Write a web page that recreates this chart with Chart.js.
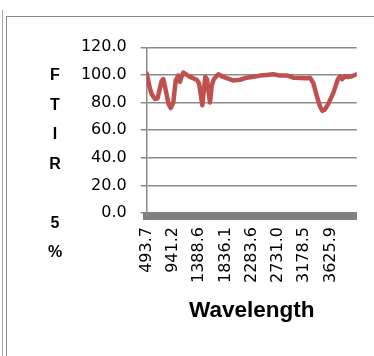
<!DOCTYPE html>
<html>
<head>
<meta charset="utf-8">
<script src="https://cdn.jsdelivr.net/npm/chart.js@4/dist/chart.umd.min.js"></script>
<style>
  html, body { margin: 0; padding: 0; background: #fff; }
  #wrap { position: relative; width: 374px; height: 356px; overflow: hidden; }
  #frameOuter { position: absolute; left: 2px; top: 10px; width: 1px; height: 346px; background: #a6a6a6; }
  #frameInner { position: absolute; left: 6px; top: 16px; right: -2px; bottom: -2px;
                border-left: 1px solid #8c8c8c; border-top: 1px solid #8c8c8c; }
  canvas { position: absolute; left: 0; top: 0; }
</style>
</head>
<body>
<div id="wrap">
  <div id="frameOuter"></div>
  <div id="frameInner"></div>
  <canvas id="c" width="374" height="356"></canvas>
</div>
<script>
// FTIR spectrum: wavelength (x) and transmittance % (y)
const wavelength = [493.7, 550, 579, 635, 678, 749, 777, 823, 865, 903,
  947, 988, 1032, 1061, 1090, 1118, 1176, 1232, 1346, 1385,
  1411, 1441, 1470, 1493, 1522, 1547, 1573, 1602, 1629, 1658,
  1714, 1777, 1857, 1965, 2084, 2198, 2311, 2425, 2539, 2652,
  2766, 2880, 2993, 3107, 3221, 3277, 3334, 3391, 3448, 3490,
  3533, 3589, 3675, 3754, 3789, 3823, 3874, 3925, 3993, 4073];
const transmittance = [101, 90, 86, 82.5, 83, 95.7, 97, 88, 79, 76,
  80, 96, 99.5, 95, 99, 101.7, 100, 98.6, 96.5, 94,
  87, 78, 90, 98.5, 97, 88, 80, 92, 96, 98,
  100.5, 99, 97.6, 96, 96.5, 98, 98.6, 99.5, 100, 100.5,
  99.5, 99.6, 98, 97.7, 97.5, 98, 94, 85, 77, 74,
  75, 79, 87, 97, 99, 97, 99, 98.5, 99, 100.5];
const xTickLabels = [493.7, 941.2, 1388.6, 1836.1, 2283.6, 2731.0, 3178.5, 3625.9];
const yTickLabels = [0, 20, 40, 60, 80, 100, 120];
const yTitleChars = ['F', 'T', 'I', 'R', ' ', '5', '%'];
const xTitle = 'Wavelength';

// Vertical, letter-by-letter axis title on the left
const stackedTitle = {
  id: 'stackedTitle',
  afterDraw(chart) {
    const ctx = chart.ctx;
    ctx.save();
    ctx.font = 'bold 16px "Liberation Sans", Arial, sans-serif';
    ctx.fillStyle = '#000';
    ctx.textAlign = 'center';
    ctx.textBaseline = 'middle';
    yTitleChars.forEach((ch, i) => ctx.fillText(ch, 55, 76 + i * 29.5));
    ctx.restore();
  }
};

new Chart(document.getElementById('c'), {
  type: 'line',
  data: {
    datasets: [{
      data: wavelength.map((w, i) => ({ x: w, y: transmittance[i] })),
      borderColor: '#C0504D',
      borderWidth: 4.5,
      pointRadius: 0,
      tension: 0,
      borderJoinStyle: 'round',
      borderCapStyle: 'round',
      fill: false
    }]
  },
  options: {
    responsive: false,
    animation: false,
    devicePixelRatio: 1,
    layout: { padding: { left: 80.7, right: 17.3, top: 47.3, bottom: 0 } },
    plugins: { legend: { display: false }, tooltip: { enabled: false } },
    scales: {
      x: {
        type: 'linear',
        min: 493.7,
        max: 4073.3,
        afterBuildTicks: s => { s.ticks = xTickLabels.map(v => ({ value: v })); },
        afterFit: s => { s.height = 140; },
        grid: { drawOnChartArea: false, drawTicks: false },
        border: { display: true, color: '#808080', width: 8 },
        ticks: {
          autoSkip: false, minRotation: 90, maxRotation: 90, padding: 11,
          color: '#000',
          font: { family: '"DejaVu Sans", sans-serif', size: 16 },
          callback: v => Number(v).toFixed(1)
        },
        title: {
          display: true, text: xTitle, color: '#000',
          font: { family: '"Liberation Sans", Arial, sans-serif', size: 22.5, weight: 'bold' },
          padding: { top: 0, bottom: 31.5 }
        }
      },
      y: {
        min: -2.17,
        max: 120,
        afterBuildTicks: s => { s.ticks = yTickLabels.map(v => ({ value: v })); },
        afterFit: s => { s.width = 66; },
        grid: { color: '#8a8a8a', lineWidth: 1.5, tickLength: 6, drawTicks: true },
        border: { display: true, color: '#8a8a8a', width: 1.5 },
        ticks: {
          padding: 14, color: '#000',
          font: { family: '"DejaVu Sans", sans-serif', size: 16 },
          callback: v => Number(v).toFixed(1)
        }
      }
    }
  },
  plugins: [stackedTitle]
});
</script>
</body>
</html>
